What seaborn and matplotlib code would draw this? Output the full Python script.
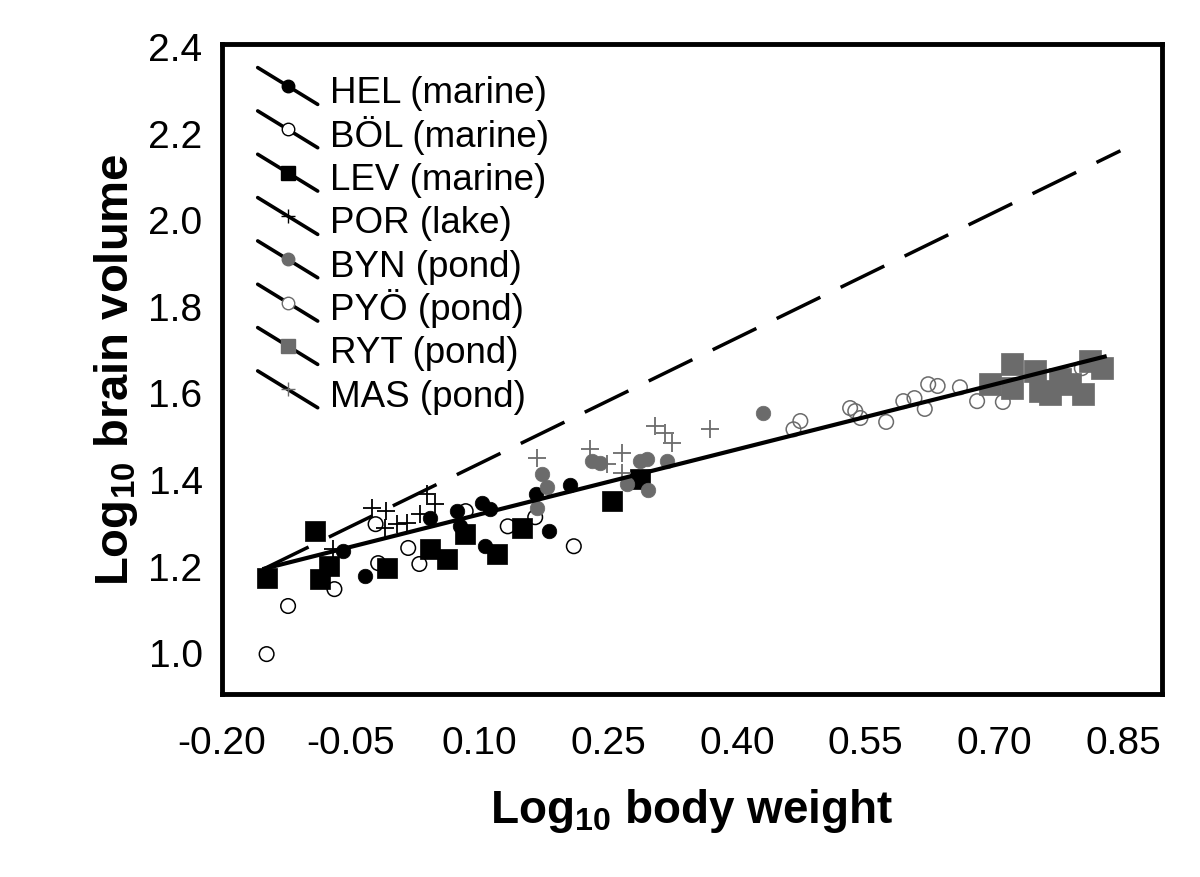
import seaborn as sns
import matplotlib.pyplot as plt
from matplotlib.lines import Line2D
from matplotlib.legend_handler import HandlerLine2D

# -----------------------------
# Data
# -----------------------------
HEL_x = [-0.059, -0.033, 0.042, 0.074, 0.077, 0.103, 0.112, 0.107, 0.166, 0.181, 0.206]
HEL_y = [1.234, 1.176, 1.310, 1.326, 1.291, 1.345, 1.331, 1.245, 1.365, 1.280, 1.386]

BOL_x = [-0.148, -0.123, -0.069, -0.021, -0.018, 0.017, 0.030, 0.084, 0.133, 0.165, 0.210]
BOL_y = [0.996, 1.107, 1.146, 1.296, 1.206, 1.241, 1.204, 1.326, 1.291, 1.312, 1.245]

LEV_x = [-0.148, -0.092, -0.086, -0.075, -0.008, 0.042, 0.062, 0.083, 0.121, 0.150, 0.255, 0.287]
LEV_y = [1.171, 1.280, 1.169, 1.199, 1.195, 1.238, 1.215, 1.273, 1.227, 1.287, 1.349, 1.400]

POR_x = [-0.071, -0.025, -0.010, -0.009, 0.004, 0.016, 0.031, 0.039, 0.048]
POR_y = [1.238, 1.333, 1.287, 1.326, 1.296, 1.298, 1.319, 1.365, 1.342]

BYN_x = [0.167, 0.173, 0.179, 0.231, 0.241, 0.272, 0.287, 0.295, 0.296, 0.319, 0.431]
BYN_y = [1.333, 1.412, 1.382, 1.442, 1.437, 1.388, 1.442, 1.446, 1.375, 1.442, 1.552]

PYO_x = [0.466, 0.474, 0.532, 0.538, 0.544, 0.574, 0.594, 0.607, 0.619, 0.623, 0.634,
         0.660, 0.680, 0.710, 0.802]
PYO_y = [1.515, 1.534, 1.564, 1.557, 1.541, 1.532, 1.580, 1.587, 1.562, 1.619, 1.615,
         1.612, 1.580, 1.578, 1.656]

RYT_x = [0.695, 0.721, 0.721, 0.748, 0.753, 0.765, 0.777, 0.788, 0.803, 0.812, 0.826]
RYT_y = [1.619, 1.666, 1.610, 1.650, 1.603, 1.596, 1.631, 1.619, 1.596, 1.673, 1.656]

MAS_x = [0.167, 0.229, 0.249, 0.266, 0.266, 0.305, 0.316, 0.324, 0.369]
MAS_y = [1.449, 1.469, 1.435, 1.460, 1.414, 1.522, 1.506, 1.483, 1.515]

# regression lines (end points)
fit_x = [-0.153, 0.831]
fit_y = [1.192, 1.684]
dash_x = [-0.150, 0.847]
dash_y = [1.194, 2.158]

labels = ["HEL (marine)", "BÖL (marine)", "LEV (marine)", "POR (lake)",
          "BYN (pond)", "PYÖ (pond)", "RYT (pond)", "MAS (pond)"]

GRAY = "#6b6b6b"

# -----------------------------
# Styling
# -----------------------------
sns.set_style("white")
plt.rcParams["font.family"] = ["Liberation Sans", "DejaVu Sans"]
plt.rcParams["mathtext.fontset"] = "custom"
plt.rcParams["mathtext.rm"] = "Liberation Sans"
plt.rcParams["mathtext.bf"] = "Liberation Sans:bold"
for key in ["text.color", "axes.labelcolor", "xtick.color", "ytick.color"]:
    plt.rcParams[key] = "black"

fig = plt.figure(figsize=(12, 8.78), dpi=100)
ax = fig.add_axes([0.185, 0.208, 0.783, 0.741])

# -----------------------------
# Points
# -----------------------------
sns.scatterplot(x=HEL_x, y=HEL_y, ax=ax, marker="o", s=110, color="black",
                edgecolor="black", linewidth=0.5, zorder=3)
sns.scatterplot(x=BOL_x, y=BOL_y, ax=ax, marker="o", s=110, facecolor="none",
                edgecolor="black", linewidth=1.1, zorder=3)
sns.scatterplot(x=LEV_x, y=LEV_y, ax=ax, marker="s", s=190, color="black",
                edgecolor="black", linewidth=0.5, zorder=3)
sns.scatterplot(x=POR_x, y=POR_y, ax=ax, marker="+", s=170, color="black",
                linewidth=1.3, zorder=3)
sns.scatterplot(x=BYN_x, y=BYN_y, ax=ax, marker="o", s=110, color=GRAY,
                edgecolor=GRAY, linewidth=0.5, zorder=3)
sns.scatterplot(x=PYO_x, y=PYO_y, ax=ax, marker="o", s=110, facecolor="none",
                edgecolor=GRAY, linewidth=1.1, zorder=3)
sns.scatterplot(x=RYT_x, y=RYT_y, ax=ax, marker="s", s=260, color=GRAY,
                edgecolor=GRAY, linewidth=0.5, zorder=3)
sns.scatterplot(x=MAS_x, y=MAS_y, ax=ax, marker="+", s=170, color=GRAY,
                linewidth=1.3, zorder=3)

# -----------------------------
# Lines
# -----------------------------
ax.plot(fit_x, fit_y, color="black", lw=3, solid_capstyle="butt", zorder=4)
ax.plot(dash_x, dash_y, color="black", lw=2.5, linestyle=(0, (14, 6.5)), zorder=4)


# -----------------------------
# Legend with slanted handles
# -----------------------------
class SlantHandler(HandlerLine2D):
    def create_artists(self, legend, orig_handle, xdescent, ydescent,
                       width, height, fontsize, trans):
        x0, x1 = -xdescent, width - xdescent
        cy = (height - ydescent) / 2.0
        half = 0.5 * fontsize
        seg = Line2D([x0, x1], [cy + half, cy - half], color="black", lw=2.6,
                     transform=trans)
        mk = Line2D([(x0 + x1) / 2], [cy], linestyle="none",
                    marker=orig_handle.get_marker(),
                    markersize=orig_handle.get_markersize(),
                    markerfacecolor=orig_handle.get_markerfacecolor(),
                    markeredgecolor=orig_handle.get_markeredgecolor(),
                    markeredgewidth=orig_handle.get_markeredgewidth(),
                    transform=trans)
        return [seg, mk]


styles = [("o", "black", "black", 9), ("o", "white", "black", 9),
          ("s", "black", "black", 10), ("+", "black", "black", 10),
          ("o", GRAY, GRAY, 9), ("o", "white", GRAY, 9),
          ("s", GRAY, GRAY, 10), ("+", GRAY, GRAY, 10)]
handles = [Line2D([], [], marker=m, markerfacecolor=fc, markeredgecolor=ec,
                  markersize=ms, markeredgewidth=1.0, color="black")
           for m, fc, ec, ms in styles]
ax.legend(handles, labels, loc="upper left", bbox_to_anchor=(0.038, 0.96),
          frameon=False, fontsize=26.5, handlelength=1.63, handletextpad=0.33,
          handleheight=1.3, labelspacing=0.08, borderpad=0, borderaxespad=0,
          handler_map={Line2D: SlantHandler()})

# -----------------------------
# Axes
# -----------------------------
ax.set_xlim(-0.20, 0.895)
ax.set_ylim(0.903, 2.405)
ax.set_xticks([-0.20, -0.05, 0.10, 0.25, 0.40, 0.55, 0.70, 0.85])
ax.set_xticklabels(["-0.20", "-0.05", "0.10", "0.25", "0.40", "0.55", "0.70", "0.85"])
ax.set_yticks([1.0, 1.2, 1.4, 1.6, 1.8, 2.0, 2.2, 2.4])
ax.set_yticklabels(["1.0", "1.2", "1.4", "1.6", "1.8", "2.0", "2.2", "2.4"])
ax.tick_params(direction="in", length=8, width=2, labelsize=28)
ax.tick_params(axis="x", pad=22)
ax.tick_params(axis="y", pad=14)
for sp in ax.spines.values():
    sp.set_linewidth(3.5)
    sp.set_color("black")

ax.set_xlabel(r"Log$_{\mathbf{10}}$ body weight", fontsize=33, fontweight="bold", labelpad=18)
ax.set_ylabel(r"Log$_{\mathbf{10}}$ brain volume", fontsize=34, fontweight="bold", labelpad=6)

plt.savefig("out.png", dpi=100)
plt.close()
